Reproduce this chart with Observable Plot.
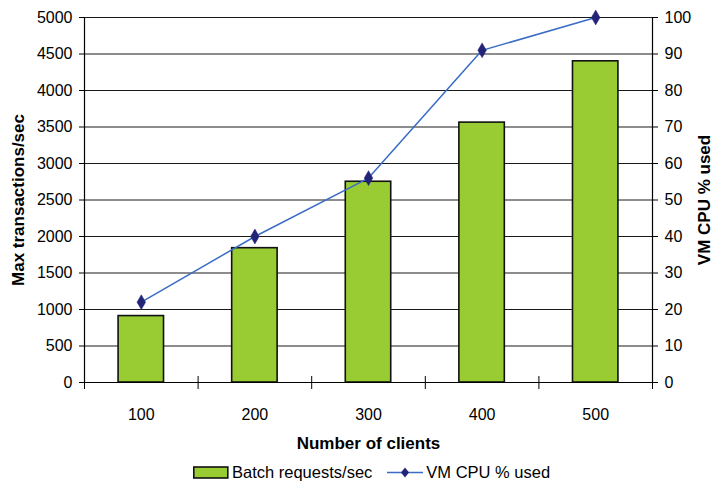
<!DOCTYPE html>
<html>
<head>
<meta charset="utf-8">
<script src="https://cdn.jsdelivr.net/npm/d3@7"></script>
<script src="https://cdn.jsdelivr.net/npm/@observablehq/plot@0.6"></script>
<style>
  body { margin: 0; background: #fff; font-family: "Liberation Sans", Arial, sans-serif; }
  #wrap { position: relative; width: 714px; height: 485px; }
  #legend { position: absolute; top: 461px; left: 193px; height: 22px; display: flex; align-items: center; font-size: 16.5px; color: #000; white-space: nowrap; }
  #legend .item { display: flex; align-items: center; }
</style>
</head>
<body>
<div id="wrap">
  <div id="chart"></div>
  <div id="legend"></div>
</div>
<script>
// ---- data ----
const clients = [100, 200, 300, 400, 500];
const batchRequests = [910, 1840, 2750, 3560, 4400];   // left axis
const cpuUsed = [22, 40, 56, 91, 100];                  // right axis, %
const leftTicks = [0, 500, 1000, 1500, 2000, 2500, 3000, 3500, 4000, 4500, 5000];
const rightTicks = [0, 10, 20, 30, 40, 50, 60, 70, 80, 90, 100];
const categoryBounds = [50, 150, 250, 350, 450, 550];
const seriesNames = ["Batch requests/sec", "VM CPU % used"];
const axisTitles = { x: "Number of clients", yLeft: "Max transactions/sec", yRight: "VM CPU % used" };

const leftMax = 5000, rightMax = 100, ratio = leftMax / rightMax;
const data = clients.map((c, i) => ({ c, tps: batchRequests[i], cpu: cpuUsed[i] }));

const barFill = "#99CC33";
const lineColor = "#3A6CC6";
const markerColor = "#232378";

const chart = Plot.plot({
  width: 714,
  height: 452,
  marginLeft: 84,
  marginRight: 62,
  marginTop: 17,
  marginBottom: 70,
  style: { fontFamily: "'Liberation Sans', Arial, sans-serif", fontSize: "16px", color: "#000", background: "#fff" },
  x: { type: "linear", domain: [categoryBounds[0], categoryBounds[categoryBounds.length - 1]] },
  y: { domain: [0, leftMax] },
  marks: [
    Plot.ruleY(leftTicks, { stroke: "#1a1a1a", strokeWidth: 1 }),
    Plot.rectY(data, { x1: d => d.c - 20, x2: d => d.c + 20, y1: 0, y2: "tps", fill: barFill, stroke: "#111", strokeWidth: 1.6 }),
    Plot.ruleX([categoryBounds[0]], { stroke: "#000", strokeWidth: 1.2 }),
    Plot.ruleX([categoryBounds[categoryBounds.length - 1]], { stroke: "#000", strokeWidth: 1.2 }),
    Plot.ruleY([0], { stroke: "#000", strokeWidth: 1.2 }),
    Plot.ruleX(categoryBounds, { y1: 0, y2: 0, insetTop: -6, insetBottom: -7, stroke: "#000", strokeWidth: 1 }),
    Plot.axisY({ ticks: leftTicks, anchor: "left", tickSize: 5, tickPadding: 7, label: null, tickFormat: d => String(d), fontSize: 16 }),
    Plot.axisY(rightTicks.map(d => d * ratio), { anchor: "right", tickSize: 5, tickPadding: 7, label: null, tickFormat: d => String(d / ratio), fontSize: 16 }),
    Plot.axisX({ ticks: clients, tickSize: 0, tickPadding: 26, label: null, tickFormat: d => String(d), fontSize: 16 }),
    Plot.line(data, { x: "c", y: d => d.cpu * ratio, stroke: lineColor, strokeWidth: 1.5 }),
    Plot.dot(data, { x: "c", y: d => d.cpu * ratio, symbol: "diamond", r: 4.5, fill: markerColor, stroke: markerColor, strokeWidth: 0.5 }),
    Plot.text([axisTitles.x], { frameAnchor: "bottom", dy: 61, text: d => d, fontWeight: "bold", fontSize: 17, lineAnchor: "middle" }),
    Plot.text([axisTitles.yLeft], { frameAnchor: "left", dx: -66, rotate: -90, text: d => d, fontWeight: "bold", fontSize: 17, textAnchor: "middle", lineAnchor: "middle" }),
    Plot.text([axisTitles.yRight], { frameAnchor: "right", dx: 52, rotate: -90, text: d => d, fontWeight: "bold", fontSize: 17, textAnchor: "middle", lineAnchor: "middle" })
  ]
});
document.getElementById("chart").appendChild(chart);

// legend
const legend = document.getElementById("legend");
legend.innerHTML = `
  <span class="item">
    <svg width="36" height="13" style="margin-right:3px"><rect x="0.8" y="1" width="34" height="11" fill="${barFill}" stroke="#111" stroke-width="1.6"/></svg>
    <span>${seriesNames[0]}</span>
  </span>
  <span class="item" style="margin-left:15px">
    <svg width="37" height="13" style="margin-right:2px"><line x1="0" y1="6.5" x2="36" y2="6.5" stroke="${lineColor}" stroke-width="1.5"/><path d="M18,1.5 L22,6.5 L18,11.5 L14,6.5 Z" fill="${markerColor}"/></svg>
    <span>${seriesNames[1]}</span>
  </span>`;
</script>
</body>
</html>
